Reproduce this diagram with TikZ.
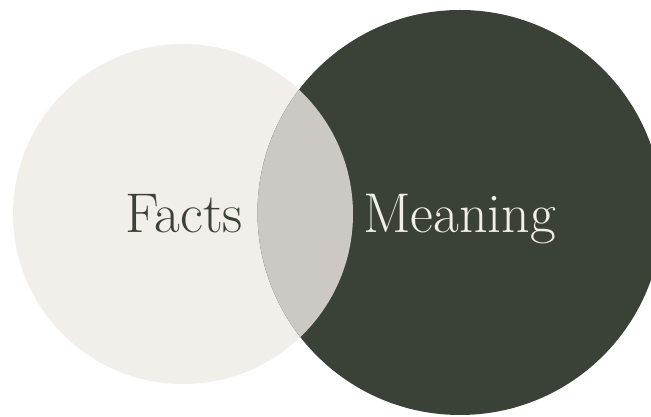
\documentclass[tikz,border=0pt]{standalone}
\usepackage{tikz}
\usetikzlibrary{positioning}
\definecolor{sand}{RGB}{242,238,234}
\definecolor{forest}{RGB}{58,66,55}
\definecolor{pebble}{RGB}{204,200,195}

\begin{document}
\begin{tikzpicture}[x=1pt, y=1pt, label/.style={inner sep=0pt, anchor=base west, font=\fontsize{56}{56}\selectfont}]
          % Page frame
          \clip (0,0) rectangle (651,417);
          \fill[white] (0,0) rectangle (651,417);
          
          % Two circles
          \fill[sand] (183,203) circle (170);
          \fill[forest] (460,204.5) circle (202.5);
          
          % Overlap
          \begin{scope}
            \clip (183,203) circle (170);
            \fill[pebble] (460,204.5) circle (202.5);
          \end{scope}
          
          % Labels
          \node[label, forest] (facts) at (125,184) {Facts};
          \node[label, sand] (meaning) at (363,184) {Meaning};
        \end{tikzpicture}
\end{document}
